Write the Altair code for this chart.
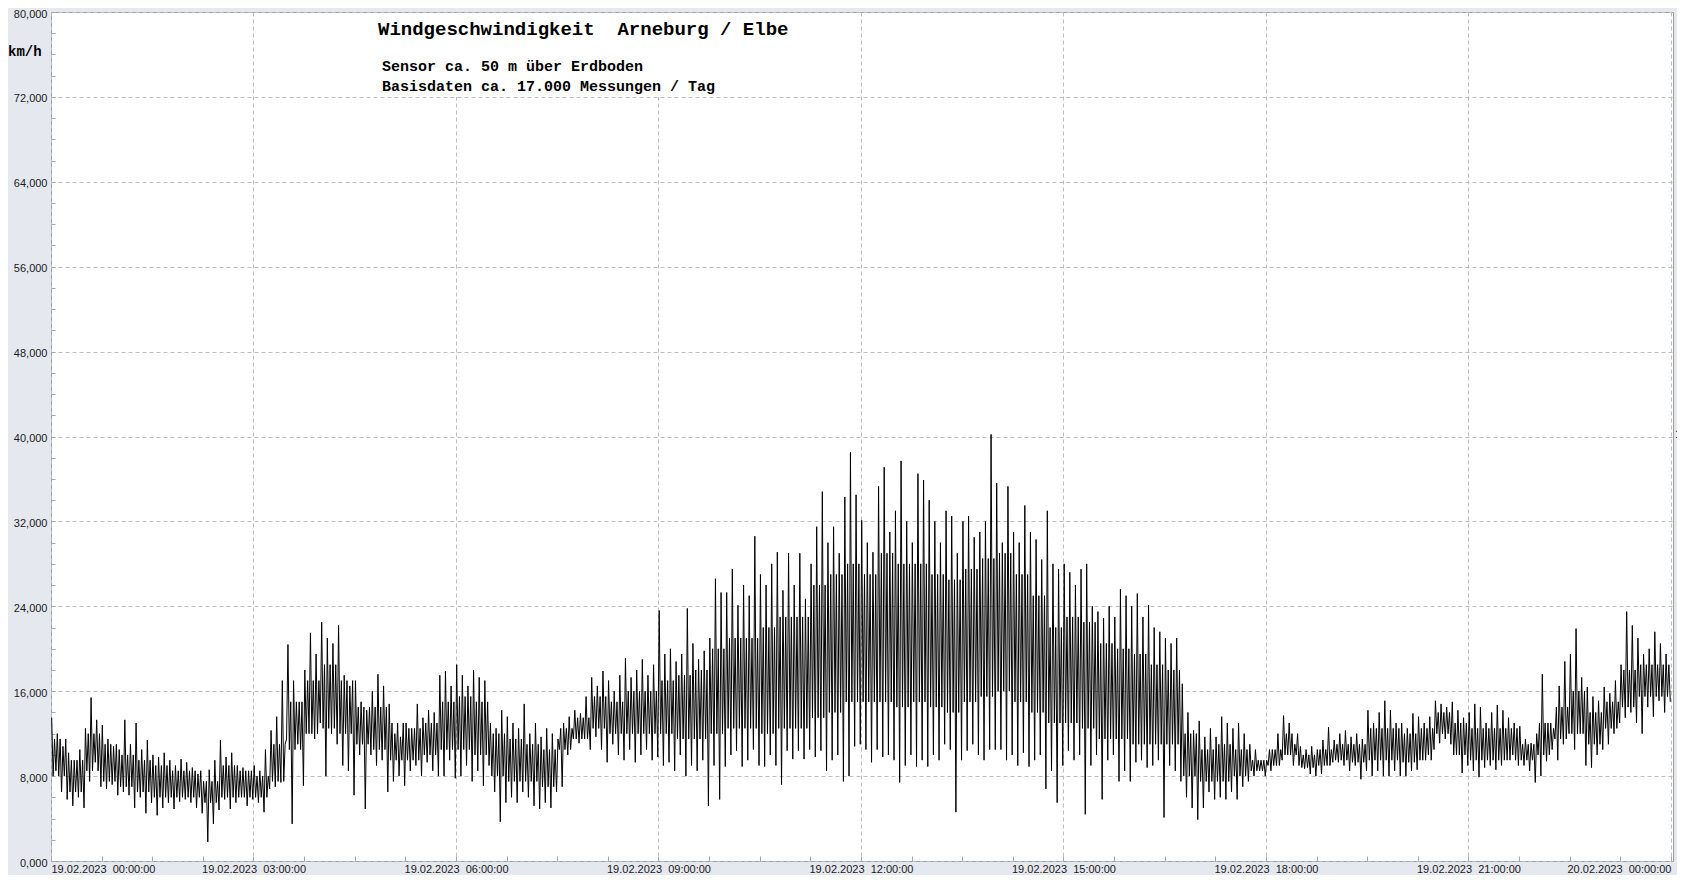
import altair as alt
import pandas as pd

# ---- text -------------------------------------------------------------
TITLE = "Windgeschwindigkeit\u00a0\u00a0Arneburg / Elbe"
SUB1 = "Sensor ca. 50 m über Erdboden"
SUB2 = "Basisdaten ca. 17.000 Messungen / Tag"
UNIT = "km/h"
DAY1 = "19.02.2023"
DAY2 = "20.02.2023"

# ---- data: wind speed (km/h) --------------------------------------------
# 5-minute bins: upper excursion (hi) and lower excursion (lo), one row per hour
hi_h = [
    [13.5, 12.0, 10.8, 10.2, 9.5, 10.5, 12.5, 15.4, 13.3, 12.8, 11.5, 10.8],
    [10.5, 13.3, 11.0, 13.0, 10.5, 11.4, 10.0, 9.8, 10.2, 9.5, 9.0, 9.6],
    [9.3, 8.8, 8.2, 7.5, 8.6, 9.5, 11.4, 9.8, 10.2, 9.0, 8.8, 8.5],
    [9.0, 8.5, 10.5, 12.3, 13.6, 17.0, 20.4, 17.0, 15.0, 18.0, 21.5, 19.5],
    [22.5, 21.0, 20.5, 22.2, 17.5, 16.5, 17.0, 15.0, 14.2, 16.0, 17.6, 16.5],
    [14.8, 12.0, 11.7, 13.0, 12.5, 14.8, 13.5, 14.2, 14.0, 17.5, 17.9, 16.5],
    [18.5, 17.5, 16.5, 18.0, 17.3, 17.0, 13.0, 12.5, 14.2, 13.6, 13.0, 12.5],
    [14.8, 12.0, 13.0, 11.7, 12.5, 12.0, 11.5, 13.0, 13.6, 14.2, 13.9, 15.5],
    [17.3, 16.5, 17.9, 17.0, 16.0, 17.5, 19.1, 17.3, 18.0, 19.0, 17.5, 18.5],
    [23.6, 19.5, 20.0, 18.8, 19.5, 23.8, 20.5, 19.0, 19.8, 21.0, 26.6, 25.3],
    [25.3, 27.5, 24.1, 26.0, 25.0, 30.6, 27.0, 26.0, 28.0, 29.1, 25.5, 29.0],
    [26.0, 29.0, 24.7, 28.0, 31.5, 34.8, 30.0, 31.5, 29.0, 34.3, 38.5, 34.5],
    [32.1, 30.0, 29.1, 35.3, 37.1, 31.0, 33.0, 37.7, 32.0, 30.0, 36.5, 35.9],
    [34.0, 32.0, 30.0, 33.0, 32.5, 29.0, 32.0, 32.5, 30.5, 31.0, 32.0, 40.2],
    [35.6, 30.0, 35.3, 31.0, 30.0, 33.5, 31.0, 30.3, 28.4, 33.0, 28.0, 27.5],
    [28.0, 27.2, 26.0, 27.5, 28.0, 24.0, 23.5, 22.9, 24.0, 23.0, 25.6, 25.0],
    [24.0, 25.2, 23.0, 24.1, 22.0, 21.6, 21.0, 20.5, 21.0, 16.7, 14.0, 12.3],
    [13.2, 11.7, 12.5, 11.7, 13.6, 13.0, 12.5, 13.0, 12.0, 11.0, 10.5, 9.5],
    [9.5, 10.5, 12.0, 13.7, 13.0, 11.0, 10.8, 10.5, 10.8, 10.5, 11.4, 12.6],
    [11.4, 12.0, 12.3, 11.7, 12.0, 11.5, 14.2, 13.0, 14.0, 15.1, 14.2, 13.0],
    [13.0, 12.5, 13.9, 13.6, 13.0, 13.6, 15.1, 14.8, 14.5, 15.0, 14.2, 13.5],
    [14.0, 14.8, 14.5, 13.0, 14.0, 14.7, 14.2, 13.5, 13.0, 12.7, 11.5, 11.1],
    [12.0, 17.6, 13.0, 12.5, 16.5, 18.8, 19.5, 21.9, 17.3, 16.4, 15.5, 15.1],
    [16.4, 15.8, 17.0, 18.5, 23.5, 22.2, 21.0, 19.5, 20.0, 21.6, 20.5, 19.5],
]
lo_h = [
    [8.5, 6.5, 5.8, 5.2, 6.0, 5.0, 7.5, 9.3, 7.0, 6.8, 7.2, 6.2],
    [6.5, 6.2, 5.0, 6.0, 4.5, 5.5, 4.3, 5.0, 5.5, 4.9, 5.6, 5.8],
    [5.5, 5.0, 4.5, 1.8, 3.5, 4.8, 5.8, 4.9, 5.5, 6.0, 5.2, 5.8],
    [5.5, 4.6, 6.8, 7.0, 7.4, 11.5, 3.5, 11.0, 7.1, 12.0, 11.5, 13.0],
    [8.0, 12.0, 11.0, 9.0, 8.5, 6.2, 10.0, 4.9, 10.0, 9.0, 9.5, 6.5],
    [7.5, 8.0, 7.1, 8.5, 9.0, 8.0, 9.3, 8.5, 8.0, 8.0, 9.5, 7.8],
    [8.0, 9.0, 7.5, 8.5, 7.1, 9.0, 6.5, 3.7, 5.5, 6.0, 5.5, 6.5],
    [6.0, 5.2, 4.9, 5.5, 5.0, 6.5, 7.0, 10.0, 11.5, 11.1, 11.5, 10.5],
    [11.7, 10.5, 9.3, 11.0, 10.0, 9.5, 10.5, 9.3, 10.0, 10.5, 9.5, 9.8],
    [9.0, 9.3, 8.5, 10.0, 8.0, 9.0, 8.5, 9.5, 5.2, 9.0, 5.8, 8.9],
    [10.0, 10.4, 8.9, 9.5, 10.5, 9.0, 8.9, 10.0, 9.0, 7.2, 10.4, 9.6],
    [10.4, 9.6, 10.5, 9.8, 10.4, 8.5, 9.5, 10.0, 7.5, 8.0, 10.8, 11.0],
    [10.5, 9.3, 10.5, 9.8, 10.0, 9.5, 7.4, 9.0, 10.0, 8.9, 9.5, 8.9],
    [10.0, 9.5, 11.0, 10.5, 4.6, 9.5, 10.4, 11.0, 10.0, 9.5, 10.5, 10.5],
    [10.5, 9.5, 10.0, 9.0, 10.2, 8.9, 9.5, 10.0, 6.8, 8.5, 5.5, 9.0],
    [10.4, 9.5, 10.0, 4.4, 9.0, 10.0, 5.8, 9.5, 10.0, 7.5, 8.5, 7.5],
    [9.3, 9.5, 8.8, 9.0, 9.5, 4.1, 9.0, 8.5, 7.5, 6.0, 5.0, 3.9],
    [5.0, 6.5, 5.8, 6.0, 5.8, 6.5, 5.8, 7.0, 7.5, 8.0, 8.5, 8.0],
    [8.5, 9.0, 9.5, 10.0, 9.0, 9.0, 8.7, 8.2, 8.0, 8.2, 9.0, 9.3],
    [9.3, 9.0, 8.5, 9.0, 7.7, 8.5, 8.0, 8.5, 8.0, 8.0, 8.5, 8.0],
    [8.0, 8.5, 8.6, 9.5, 10.0, 10.5, 11.1, 11.5, 11.0, 10.0, 8.3, 9.0],
    [8.5, 7.9, 8.8, 9.0, 8.6, 9.0, 9.5, 10.0, 9.0, 9.0, 8.5, 7.4],
    [8.0, 9.4, 10.5, 9.5, 11.0, 12.0, 10.5, 12.0, 9.0, 8.8, 10.0, 10.5],
    [11.0, 12.0, 13.0, 13.5, 14.0, 13.0, 12.0, 14.5, 13.6, 15.1, 14.0, 15.0],
]
# 15-minute bins: edges of the dense core of the trace, one row per hour
core_hi_h = [
    [11.5, 9.5, 12.0, 11.0], [10.0, 9.5, 9.0, 8.5], [8.5, 7.5, 9.0, 8.5],
    [8.0, 11.0, 15.0, 17.0], [18.5, 17.0, 14.5, 14.5], [13.0, 12.5, 13.0, 15.0],
    [15.5, 15.0, 12.0, 11.5], [11.0, 10.5, 12.5, 13.5], [15.5, 15.0, 16.0, 16.0],
    [17.0, 17.5, 18.0, 20.0], [21.0, 21.0, 22.0, 23.0], [23.0, 26.0, 27.0, 28.0],
    [27.0, 29.0, 28.0, 28.0], [27.0, 26.5, 27.5, 28.5], [29.0, 27.0, 25.0, 22.0],
    [23.0, 22.5, 20.5, 20.0], [19.5, 18.5, 18.0, 12.0], [10.5, 11.0, 10.5, 9.5],
    [10.5, 12.0, 10.0, 10.5], [11.0, 11.0, 12.5, 12.5], [12.0, 12.5, 14.0, 13.0],
    [12.5, 12.5, 12.5, 11.0], [13.0, 14.5, 16.0, 14.0], [15.0, 18.0, 18.5, 18.5],
]
core_lo_h = [
    [8.0, 6.5, 8.5, 7.5], [7.0, 6.5, 6.0, 6.0], [6.0, 5.5, 6.0, 6.0],
    [6.0, 7.5, 10.5, 12.0], [12.5, 12.0, 11.0, 10.5], [9.5, 9.5, 10.0, 10.5],
    [10.5, 10.0, 8.0, 7.5], [7.5, 7.0, 10.5, 11.5], [12.5, 12.0, 12.0, 12.0],
    [12.0, 11.5, 11.5, 12.0], [12.5, 12.5, 12.0, 12.5], [12.5, 13.5, 14.0, 15.0],
    [15.0, 15.0, 14.5, 15.0], [14.5, 14.0, 15.0, 15.5], [16.0, 15.0, 14.0, 13.0],
    [13.0, 12.5, 11.5, 11.5], [11.0, 11.0, 11.0, 8.0], [7.5, 7.5, 8.0, 8.5],
    [9.0, 10.0, 8.8, 9.0], [9.5, 9.3, 9.5, 9.5], [9.3, 9.5, 12.0, 10.0],
    [9.5, 9.5, 9.5, 9.5], [10.0, 11.5, 12.0, 11.0], [12.5, 14.5, 15.5, 15.5],
]

# axis tick values
X_MAJOR = [0, 3, 6, 9, 12, 15, 18, 21, 24]
X_MINOR = [0, 0.75, 1.5, 2.25, 3, 3.75, 4.5, 5.25, 6, 6.75, 7.5, 8.25, 9,
           9.75, 10.5, 11.25, 12, 12.75, 13.5, 14.25, 15, 15.75, 16.5, 17.25,
           18, 18.75, 19.5, 20.25, 21, 21.75, 22.5, 23.25, 24]
Y_MAJOR = [0, 8, 16, 24, 32, 40, 48, 56, 64, 72, 80]
Y_MINOR = list(range(0, 81, 2))

# ---- table -------------------------------------------------------------
hi = [v for row in hi_h for v in row]
lo = [v for row in lo_h for v in row]
core_hi = [v for row in core_hi_h for v in row]
core_lo = [v for row in core_lo_h for v in row]
rows = []
order = 0
for i in range(len(hi)):
    start = i * 5 / 60.0
    q = i // 3  # quarter-hour of this 5-minute bin
    for k, val in enumerate([hi[i], core_lo[q], core_hi[q], lo[i]]):
        rows.append({"h": start + (0.625 + 1.25 * k) / 60.0, "v": val, "o": order})
        order += 1
df = pd.DataFrame(rows)

# ---- styling -------------------------------------------------------------
BG = "#E6E8F0"
GRID = "#BDBDBD"
TICK = "#A8A8A8"
LABEL_FONT = "Liberation Sans"
MONO = "Liberation Mono"

xscale = alt.Scale(domain=[0, 24.03], nice=False, zero=False)
yscale = alt.Scale(domain=[0, 80], nice=False, zero=True)

x_label_expr = (
    f"datum.value >= 24 ? '{DAY2}\u00a0\u00a000:00:00' : "
    f"'{DAY1}\u00a0\u00a0' + (datum.value < 10 ? '0' : '') + datum.value + ':00:00'"
)
y_label_expr = "replace(format(datum.value, '.3f'), '.', ',')"

line = alt.Chart(df).mark_line(color="black", strokeWidth=1, clip=True).encode(
    x=alt.X("h:Q", scale=xscale, axis=alt.Axis(
        orient="bottom", values=X_MAJOR, labelExpr=x_label_expr, title=None,
        grid=True, gridDash=[4, 3], gridColor=GRID, gridWidth=1,
        ticks=False, domain=False, labelFont=LABEL_FONT, labelFontSize=11,
        labelColor="#1a1a1a", labelFlush=12, labelPadding=2,
        labelOverlap=False, labelBaseline="top")),
    y=alt.Y("v:Q", scale=yscale, axis=alt.Axis(
        orient="left", values=Y_MAJOR, labelExpr=y_label_expr, title=None,
        grid=True, gridDash=[4, 3], gridColor=GRID, gridWidth=1,
        ticks=False, domain=False, labelFont=LABEL_FONT, labelFontSize=11,
        labelColor="#1a1a1a", labelPadding=4, labelOffset=2,
        labelOverlap=False)),
    order="o:Q",
)

minor = alt.Chart(df).mark_point(opacity=0).encode(
    x=alt.X("h:Q", scale=xscale, axis=alt.Axis(
        orient="bottom", values=X_MINOR, offset=-5, tickSize=5, ticks=True,
        labels=False, domain=False, grid=False, tickColor=TICK, title=None)),
    y=alt.Y("v:Q", scale=yscale, axis=alt.Axis(
        orient="left", values=Y_MINOR, offset=-4, tickSize=4, ticks=True,
        labels=False, domain=False, grid=False, tickColor=TICK, title=None)),
)

one = pd.DataFrame({"k": [0]})
box = alt.Chart(one).mark_rect(color="white").encode(
    x=alt.value(316), x2=alt.value(749), y=alt.value(1), y2=alt.value(85)
)


def label(txt, x, y, size, font=MONO, weight="bold"):
    return alt.Chart(pd.DataFrame({"t": [txt]})).mark_text(
        align="left", baseline="alphabetic", font=font, fontSize=size,
        fontWeight=weight, color="black"
    ).encode(x=alt.value(x), y=alt.value(y), text="t:N")


title = label(TITLE, 327, 23, 19)
sub1 = label(SUB1, 331, 59, 15)
sub2 = label(SUB2, 331, 79, 15)
unit = label(UNIT, -43, 44, 14)
edge = label("1", 1624, 426, 11, font=LABEL_FONT, weight="normal")

chart = alt.layer(minor, box, line, title, sub1, sub2, unit, edge).resolve_scale(
    x="shared", y="shared"
).resolve_axis(
    x="independent", y="independent"
).properties(
    width=1622, height=849, background=BG,
    padding={"left": 43, "top": 4, "right": 4, "bottom": 14},
    autosize=alt.AutoSizeParams(type="none"),
).configure_view(
    stroke="#9C9C9C", strokeWidth=1, fill="white"
)

chart.save("out.html", embed_options={"renderer": "svg", "actions": False})
